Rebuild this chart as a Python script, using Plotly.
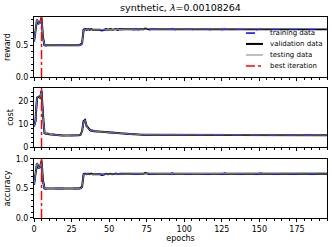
import plotly.graph_objects as go

epochs = list(range(196))
best_epoch = 5
title_text = "synthetic, <i>λ</i>=0.00108264"

val_reward = [0.55,0.72,0.90,0.84,0.85,0.93,0.62,0.50,0.50,0.49,
 0.50,0.50,0.49,0.50,0.50,0.50,0.49,0.50,0.50,0.50,
 0.50,0.49,0.50,0.50,0.50,0.50,0.50,0.49,0.50,0.50,
 0.50,0.51,0.53,0.74,0.75,0.74,0.75,0.74,0.75,0.74,
 0.74,0.75,0.75,0.74,0.74,0.73,0.74,0.75,0.75,0.74,
 0.75,0.75,0.74,0.75,0.75,0.75,0.74,0.75,0.75,0.75,
 0.75,0.74,0.75,0.75,0.75,0.75,0.75,0.74,0.75,0.75,
 0.75,0.75,0.75,0.75,0.76,0.75,0.75,0.75,0.75,0.75,
 0.76,0.75,0.75,0.75,0.75,0.76,0.75,0.75,0.75,0.75,
 0.75,0.76,0.75,0.75,0.75,0.75,0.76,0.75,0.75,0.75,
 0.75,0.75,0.76,0.75,0.75,0.75,0.75,0.76,0.75,0.75,
 0.75,0.75,0.75,0.76,0.75,0.75,0.75,0.75,0.76,0.75,
 0.75,0.75,0.76,0.75,0.75,0.75,0.76,0.75,0.75,0.75,
 0.75,0.76,0.75,0.75,0.75,0.75,0.75,0.76,0.75,0.75,
 0.75,0.75,0.76,0.75,0.75,0.76,0.75,0.75,0.75,0.75,
 0.76,0.75,0.75,0.75,0.75,0.76,0.75,0.75,0.75,0.76,
 0.75,0.75,0.75,0.75,0.76,0.75,0.75,0.75,0.75,0.76,
 0.75,0.75,0.76,0.75,0.75,0.75,0.75,0.76,0.75,0.75,
 0.75,0.76,0.75,0.75,0.75,0.75,0.76,0.75,0.75,0.75,
 0.75,0.75,0.76,0.75,0.75,0.75]

train_reward = [0.56,0.74,0.89,0.83,0.86,0.92,0.60,0.50,0.49,0.50,
 0.49,0.50,0.50,0.50,0.49,0.50,0.50,0.50,0.49,0.50,
 0.50,0.50,0.50,0.49,0.50,0.50,0.49,0.50,0.50,0.50,
 0.49,0.50,0.52,0.73,0.75,0.75,0.74,0.75,0.74,0.75,
 0.75,0.74,0.75,0.75,0.74,0.74,0.73,0.74,0.75,0.75,
 0.74,0.75,0.75,0.74,0.75,0.74,0.75,0.75,0.74,0.75,
 0.74,0.75,0.75,0.74,0.75,0.75,0.74,0.75,0.75,0.74,
 0.75,0.75,0.74,0.75,0.75,0.76,0.75,0.74,0.75,0.75,
 0.75,0.76,0.75,0.74,0.75,0.75,0.76,0.75,0.75,0.74,
 0.75,0.75,0.76,0.75,0.74,0.75,0.75,0.76,0.75,0.75,
 0.76,0.75,0.75,0.75,0.76,0.75,0.74,0.75,0.76,0.75,
 0.75,0.76,0.75,0.75,0.76,0.75,0.75,0.74,0.75,0.76,
 0.75,0.75,0.75,0.76,0.75,0.74,0.75,0.76,0.75,0.75,
 0.76,0.75,0.75,0.74,0.76,0.75,0.75,0.75,0.76,0.75,
 0.75,0.76,0.75,0.75,0.75,0.75,0.76,0.75,0.74,0.75,
 0.75,0.76,0.75,0.76,0.75,0.75,0.75,0.76,0.75,0.75,
 0.76,0.75,0.75,0.76,0.75,0.75,0.76,0.75,0.75,0.75,
 0.75,0.76,0.75,0.75,0.76,0.75,0.75,0.75,0.76,0.75,
 0.76,0.75,0.75,0.76,0.75,0.75,0.75,0.76,0.75,0.76,
 0.75,0.76,0.75,0.75,0.76,0.75]

test_reward = [0.55,0.73,0.90,0.84,0.84,0.93,0.61,0.50,0.50,0.50,
 0.50,0.49,0.50,0.50,0.50,0.49,0.50,0.50,0.50,0.49,
 0.50,0.50,0.49,0.50,0.50,0.50,0.50,0.50,0.49,0.50,
 0.50,0.50,0.53,0.74,0.74,0.75,0.75,0.74,0.74,0.75,
 0.74,0.75,0.74,0.75,0.74,0.74,0.74,0.74,0.75,0.75,
 0.75,0.74,0.75,0.75,0.74,0.75,0.75,0.74,0.75,0.75,
 0.75,0.75,0.74,0.75,0.75,0.74,0.75,0.75,0.75,0.75,
 0.75,0.74,0.75,0.75,0.75,0.75,0.76,0.75,0.75,0.75,
 0.75,0.75,0.76,0.75,0.75,0.75,0.75,0.76,0.75,0.75,
 0.76,0.75,0.75,0.75,0.76,0.75,0.75,0.75,0.76,0.75,
 0.75,0.76,0.75,0.75,0.75,0.76,0.75,0.75,0.75,0.76,
 0.75,0.75,0.76,0.75,0.75,0.75,0.76,0.75,0.75,0.75,
 0.76,0.75,0.75,0.75,0.76,0.75,0.75,0.76,0.75,0.75,
 0.75,0.75,0.76,0.75,0.75,0.76,0.75,0.75,0.75,0.76,
 0.75,0.75,0.75,0.76,0.75,0.75,0.75,0.76,0.75,0.75,
 0.75,0.75,0.76,0.75,0.75,0.75,0.76,0.75,0.75,0.75,
 0.75,0.76,0.75,0.75,0.75,0.76,0.75,0.75,0.75,0.76,
 0.75,0.75,0.75,0.76,0.75,0.75,0.75,0.75,0.76,0.75,
 0.75,0.75,0.76,0.75,0.75,0.75,0.76,0.75,0.75,0.75,
 0.76,0.75,0.75,0.75,0.75,0.76]

val_cost = [9.0,11.5,21.5,22.0,21.5,24.5,14.0,6.0,5.8,5.9,
 5.6,5.5,5.4,5.3,5.2,5.1,5.1,5.0,5.0,5.0,
 5.0,5.0,4.9,5.0,5.0,5.0,5.0,5.0,5.0,5.1,
 5.2,5.4,7.0,11.3,11.8,9.2,8.2,7.6,7.1,7.2,
 6.9,7.0,6.8,6.8,6.7,6.6,6.6,6.5,6.5,6.4,
 6.4,6.3,6.3,6.2,6.2,6.1,6.1,6.0,6.0,5.9,
 5.9,5.8,5.8,5.7,5.7,5.6,5.6,5.6,5.5,5.5,
 5.5,5.5,5.4,5.4,5.4,5.4,5.4,5.3,5.3,5.3,
 5.3,5.3,5.3,5.3,5.3,5.2,5.3,5.2,5.2,5.2,
 5.2,5.2,5.2,5.2,5.2,5.2,5.2,5.2,5.2,5.2,
 5.2,5.2,5.2,5.2,5.2,5.2,5.2,5.2,5.2,5.2,
 5.2,5.2,5.2,5.2,5.2,5.2,5.2,5.2,5.2,5.2,
 5.2,5.2,5.2,5.2,5.2,5.2,5.2,5.2,5.2,5.2,
 5.2,5.2,5.2,5.2,5.2,5.2,5.2,5.2,5.2,5.2,
 5.2,5.2,5.2,5.2,5.2,5.2,5.2,5.2,5.2,5.2,
 5.2,5.2,5.2,5.2,5.2,5.2,5.2,5.2,5.2,5.2,
 5.2,5.2,5.2,5.2,5.2,5.2,5.2,5.2,5.2,5.2,
 5.2,5.2,5.2,5.2,5.2,5.2,5.2,5.2,5.2,5.2,
 5.2,5.2,5.2,5.2,5.2,5.2,5.2,5.2,5.2,5.2,
 5.2,5.2,5.2,5.2,5.2,5.2]

train_cost = [9.2,11.0,21.8,22.2,21.3,24.3,13.5,6.1,5.9,5.8,
 5.7,5.5,5.3,5.3,5.2,5.2,5.1,5.0,5.0,5.0,
 4.9,5.0,5.0,5.0,5.0,4.9,5.0,5.0,5.0,5.0,
 5.1,5.3,6.8,11.0,11.6,9.4,8.0,7.5,7.2,7.0,
 7.0,6.9,6.8,6.7,6.7,6.6,6.5,6.5,6.4,6.4,
 6.3,6.3,6.2,6.2,6.1,6.1,6.0,6.0,5.9,5.9,
 5.8,5.8,5.7,5.7,5.6,5.6,5.6,5.5,5.5,5.5,
 5.4,5.4,5.4,5.4,5.3,5.3,5.3,5.3,5.3,5.3,
 5.3,5.2,5.3,5.2,5.2,5.2,5.2,5.2,5.2,5.2,
 5.2,5.2,5.2,5.2,5.2,5.2,5.2,5.2,5.2,5.2,
 5.2,5.2,5.2,5.2,5.2,5.2,5.2,5.2,5.2,5.2,
 5.2,5.2,5.2,5.2,5.2,5.2,5.2,5.2,5.2,5.2,
 5.2,5.2,5.2,5.2,5.2,5.2,5.2,5.2,5.2,5.2,
 5.2,5.2,5.2,5.2,5.2,5.2,5.2,5.2,5.2,5.2,
 5.2,5.2,5.2,5.2,5.2,5.2,5.2,5.2,5.2,5.2,
 5.2,5.2,5.2,5.2,5.2,5.2,5.2,5.2,5.2,5.2,
 5.2,5.2,5.2,5.2,5.2,5.2,5.2,5.2,5.2,5.2,
 5.2,5.2,5.2,5.2,5.2,5.2,5.2,5.2,5.2,5.2,
 5.2,5.2,5.2,5.2,5.2,5.2,5.2,5.2,5.2,5.2,
 5.2,5.2,5.2,5.2,5.2,5.2]

test_cost = [9.1,11.3,21.6,22.1,21.4,24.4,13.8,6.0,5.8,5.9,
 5.6,5.5,5.4,5.3,5.2,5.1,5.1,5.0,5.0,5.0,
 5.0,5.0,5.0,5.0,5.0,5.0,5.0,5.0,5.0,5.1,
 5.2,5.4,6.9,11.2,11.7,9.3,8.1,7.6,7.1,7.1,
 6.9,6.9,6.8,6.8,6.7,6.6,6.6,6.5,6.5,6.4,
 6.4,6.3,6.3,6.2,6.2,6.1,6.1,6.0,6.0,5.9,
 5.9,5.8,5.8,5.7,5.7,5.6,5.6,5.6,5.5,5.5,
 5.5,5.5,5.4,5.4,5.4,5.4,5.3,5.3,5.3,5.3,
 5.3,5.3,5.3,5.3,5.2,5.2,5.2,5.2,5.2,5.2,
 5.2,5.2,5.2,5.2,5.2,5.2,5.2,5.2,5.2,5.2,
 5.2,5.2,5.2,5.2,5.2,5.2,5.2,5.2,5.2,5.2,
 5.2,5.2,5.2,5.2,5.2,5.2,5.2,5.2,5.2,5.2,
 5.2,5.2,5.2,5.2,5.2,5.2,5.2,5.2,5.2,5.2,
 5.2,5.2,5.2,5.2,5.2,5.2,5.2,5.2,5.2,5.2,
 5.2,5.2,5.2,5.2,5.2,5.2,5.2,5.2,5.2,5.2,
 5.2,5.2,5.2,5.2,5.2,5.2,5.2,5.2,5.2,5.2,
 5.2,5.2,5.2,5.2,5.2,5.2,5.2,5.2,5.2,5.2,
 5.2,5.2,5.2,5.2,5.2,5.2,5.2,5.2,5.2,5.2,
 5.2,5.2,5.2,5.2,5.2,5.2,5.2,5.2,5.2,5.2,
 5.2,5.2,5.2,5.2,5.2,5.2]

val_acc = [0.56,0.74,0.93,0.85,0.86,0.97,0.63,0.50,0.50,0.49,
 0.50,0.50,0.49,0.50,0.50,0.50,0.49,0.50,0.50,0.50,
 0.50,0.49,0.50,0.50,0.50,0.50,0.50,0.49,0.50,0.50,
 0.50,0.51,0.53,0.74,0.75,0.74,0.75,0.74,0.75,0.74,
 0.74,0.75,0.75,0.74,0.74,0.73,0.74,0.75,0.75,0.74,
 0.75,0.75,0.74,0.75,0.75,0.75,0.74,0.75,0.75,0.75,
 0.75,0.74,0.75,0.75,0.75,0.75,0.75,0.74,0.75,0.75,
 0.75,0.75,0.75,0.75,0.76,0.75,0.75,0.75,0.75,0.75,
 0.76,0.75,0.75,0.75,0.75,0.76,0.75,0.75,0.75,0.75,
 0.75,0.76,0.75,0.75,0.75,0.75,0.76,0.75,0.75,0.75,
 0.75,0.75,0.76,0.75,0.75,0.75,0.75,0.76,0.75,0.75,
 0.75,0.75,0.75,0.76,0.75,0.75,0.75,0.75,0.76,0.75,
 0.75,0.75,0.76,0.75,0.75,0.75,0.76,0.75,0.75,0.75,
 0.75,0.76,0.75,0.75,0.75,0.75,0.75,0.76,0.75,0.75,
 0.75,0.75,0.76,0.75,0.75,0.76,0.75,0.75,0.75,0.75,
 0.76,0.75,0.75,0.75,0.75,0.76,0.75,0.75,0.75,0.76,
 0.75,0.75,0.75,0.75,0.76,0.75,0.75,0.75,0.75,0.76,
 0.75,0.75,0.76,0.75,0.75,0.75,0.75,0.76,0.75,0.75,
 0.75,0.76,0.75,0.75,0.75,0.75,0.76,0.75,0.75,0.75,
 0.75,0.75,0.76,0.75,0.75,0.75]

train_acc = [0.57,0.76,0.92,0.84,0.87,0.96,0.61,0.50,0.49,0.50,
 0.49,0.50,0.50,0.50,0.49,0.50,0.50,0.50,0.49,0.50,
 0.50,0.50,0.50,0.49,0.50,0.50,0.49,0.50,0.50,0.50,
 0.49,0.50,0.52,0.73,0.75,0.75,0.74,0.75,0.74,0.75,
 0.75,0.74,0.75,0.75,0.74,0.74,0.73,0.74,0.75,0.75,
 0.74,0.75,0.75,0.74,0.75,0.74,0.75,0.75,0.74,0.75,
 0.74,0.75,0.75,0.74,0.75,0.75,0.74,0.75,0.75,0.74,
 0.75,0.75,0.74,0.75,0.75,0.76,0.75,0.74,0.75,0.75,
 0.75,0.76,0.75,0.74,0.75,0.75,0.76,0.75,0.75,0.74,
 0.75,0.75,0.76,0.75,0.74,0.75,0.75,0.76,0.75,0.75,
 0.76,0.75,0.75,0.75,0.76,0.75,0.74,0.75,0.76,0.75,
 0.75,0.76,0.75,0.75,0.76,0.75,0.75,0.74,0.75,0.76,
 0.75,0.75,0.75,0.76,0.75,0.74,0.75,0.76,0.75,0.75,
 0.76,0.75,0.75,0.74,0.76,0.75,0.75,0.75,0.76,0.75,
 0.75,0.76,0.75,0.75,0.75,0.75,0.76,0.75,0.74,0.75,
 0.75,0.76,0.75,0.76,0.75,0.75,0.75,0.76,0.75,0.75,
 0.76,0.75,0.75,0.76,0.75,0.75,0.76,0.75,0.75,0.75,
 0.75,0.76,0.75,0.75,0.76,0.75,0.75,0.75,0.76,0.75,
 0.76,0.75,0.75,0.76,0.75,0.75,0.75,0.76,0.75,0.76,
 0.75,0.76,0.75,0.75,0.76,0.75]

test_acc = [0.56,0.75,0.93,0.85,0.85,0.97,0.62,0.50,0.50,0.50,
 0.50,0.49,0.50,0.50,0.50,0.49,0.50,0.50,0.50,0.49,
 0.50,0.50,0.49,0.50,0.50,0.50,0.50,0.50,0.49,0.50,
 0.50,0.50,0.53,0.74,0.74,0.75,0.75,0.74,0.74,0.75,
 0.74,0.75,0.74,0.75,0.74,0.74,0.74,0.74,0.75,0.75,
 0.75,0.74,0.75,0.75,0.74,0.75,0.75,0.74,0.75,0.75,
 0.75,0.75,0.74,0.75,0.75,0.74,0.75,0.75,0.75,0.75,
 0.75,0.74,0.75,0.75,0.75,0.75,0.76,0.75,0.75,0.75,
 0.75,0.75,0.76,0.75,0.75,0.75,0.75,0.76,0.75,0.75,
 0.76,0.75,0.75,0.75,0.76,0.75,0.75,0.75,0.76,0.75,
 0.75,0.76,0.75,0.75,0.75,0.76,0.75,0.75,0.75,0.76,
 0.75,0.75,0.76,0.75,0.75,0.75,0.76,0.75,0.75,0.75,
 0.76,0.75,0.75,0.75,0.76,0.75,0.75,0.76,0.75,0.75,
 0.75,0.75,0.76,0.75,0.75,0.76,0.75,0.75,0.75,0.76,
 0.75,0.75,0.75,0.76,0.75,0.75,0.75,0.76,0.75,0.75,
 0.75,0.75,0.76,0.75,0.75,0.75,0.76,0.75,0.75,0.75,
 0.75,0.76,0.75,0.75,0.75,0.76,0.75,0.75,0.75,0.76,
 0.75,0.75,0.75,0.76,0.75,0.75,0.75,0.75,0.76,0.75,
 0.75,0.75,0.76,0.75,0.75,0.75,0.76,0.75,0.75,0.75,
 0.76,0.75,0.75,0.75,0.75,0.76]

panel_names = ["reward", "cost", "accuracy"]
panel_tops = [0.94, 25.8, 1.0]
panel_dticks = [0.5, 10, 0.5]
panel_minor = [0.1, 2, 0.1]
legend_labels = ["training data", "validation data", "testing data", "best iteration"]

train_style = dict(color="#0000ff", width=1.5, dash="dash")
val_style = dict(color="black", width=2)
test_style = dict(color="#808080", width=1)
best_style = dict(color="red", width=1.5, dash="dashdot")

fig = go.Figure()
domains = [[0.701, 1.0], [0.353, 0.647], [0.0, 0.294]]
axis_names = ["", "2", "3"]
all_data = [
    (val_style, [val_reward, val_cost, val_acc]),
    (train_style, [train_reward, train_cost, train_acc]),
    (test_style, [test_reward, test_cost, test_acc]),
]

for p in range(3):
    for style, data in all_data:
        fig.add_trace(go.Scatter(
            x=epochs, y=data[p], mode="lines", line=style,
            xaxis="x" + axis_names[p], yaxis="y" + axis_names[p],
            showlegend=False, hoverinfo="skip"))
    fig.add_trace(go.Scatter(
        x=[best_epoch, best_epoch], y=[0, panel_tops[p]], mode="lines",
        line=best_style, xaxis="x" + axis_names[p], yaxis="y" + axis_names[p],
        showlegend=False, hoverinfo="skip"))

font_family = "DejaVu Sans"
for p in range(3):
    xa = dict(range=[0, 195], domain=[0, 1], showline=True, mirror=True,
              linecolor="black", linewidth=1, ticks="outside", ticklen=3,
              tickcolor="black", dtick=25, tick0=0, showgrid=False, zeroline=False,
              automargin=False,
              minor=dict(dtick=5, tick0=0, ticks="outside", ticklen=2, tickcolor="black"),
              tickfont=dict(size=8, color="black", family=font_family),
              anchor="y" + axis_names[p])
    if p < 2:
        xa["showticklabels"] = False
        xa["matches"] = "x3"
    else:
        xa["title"] = dict(text="epochs", font=dict(size=8, color="black", family=font_family), standoff=1)
    ya = dict(range=[0, panel_tops[p]], domain=domains[p], showline=True, mirror=True,
              linecolor="black", linewidth=1, ticks="outside", ticklen=3,
              tickcolor="black", dtick=panel_dticks[p], tick0=0, showgrid=False, zeroline=False,
              automargin=False,
              minor=dict(dtick=panel_minor[p], tick0=0, ticks="outside", ticklen=2, tickcolor="black"),
              tickfont=dict(size=8, color="black", family=font_family),
              title=dict(text=panel_names[p], font=dict(size=8, color="black", family=font_family), standoff=3),
              anchor="x" + axis_names[p])
    if p != 1:
        ya["tickformat"] = ".1f"
    fig.layout["xaxis" + axis_names[p]] = xa
    fig.layout["yaxis" + axis_names[p]] = ya

# manual legend inside the top panel
legend_styles = [train_style, val_style, test_style, best_style]
row_y = [0.920, 0.866, 0.811, 0.756]
for label, style, yy in zip(legend_labels, legend_styles, row_y):
    fig.add_shape(type="line", xref="paper", yref="paper", x0=0.7235, x1=0.7816,
                  y0=yy, y1=yy, line=style)
    fig.add_annotation(text=label, xref="paper", yref="paper", x=0.797, y=yy,
                       xanchor="left", yanchor="middle", showarrow=False,
                       font=dict(size=7, color="black", family=font_family))

fig.update_layout(
    width=332, height=247,
    margin=dict(l=34, r=5, t=17, b=29),
    paper_bgcolor="white", plot_bgcolor="white",
    font=dict(family=font_family, color="black"),
    showlegend=False,
    title=dict(text=title_text, x=0.5, xref="paper", y=1 - 8 / 247, yanchor="middle",
               font=dict(size=9.5, color="black", family=font_family)),
)

fig.write_html("out.html", config={"displayModeBar": False},
               post_script="document.body.style.margin='0';document.body.style.padding='0';document.body.style.overflow='hidden';")
